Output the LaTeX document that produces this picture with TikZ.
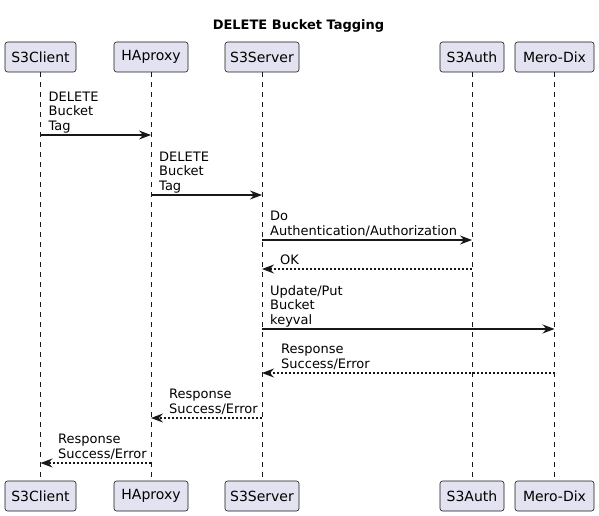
\documentclass[tikz,border=0pt]{standalone}
\usepackage{fontspec}
\setmainfont{DejaVu Sans}
\usetikzlibrary{arrows.meta}
\definecolor{ln}{HTML}{181818}
\definecolor{pf}{HTML}{E2E2F0}
\begin{document}
\begin{tikzpicture}[x=1pt,y=-1pt,
 part/.style={draw=ln, fill=pf, rounded corners=2.5pt, minimum height=30pt, inner sep=0pt, font=\fontsize{14}{16}\selectfont, line width=0.6pt},
 life/.style={draw=ln, dash pattern=on 5pt off 5pt, line width=0.5pt},
 msg/.style={draw=ln, line width=1.2pt, -{Stealth[length=12pt,width=9pt,inset=4pt]}},
 ret/.style={msg, dash pattern=on 2pt off 2pt},
 lbl/.style={anchor=base west, inner sep=0pt, align=left, font=\fontsize{13}{14.7}\selectfont},
 ttl/.style={anchor=base, inner sep=0pt, font=\fontsize{13}{15}\selectfont\bfseries}]
\useasboundingbox[fill=white] (0,0) rectangle (599,516);
\node[ttl] (title) at (298.5,30) {DELETE Bucket Tagging};
% participants
\node[part, minimum width=71pt] (cT) at (40.5,57) {S3Client};
\node[part, minimum width=74pt] (hT) at (151,57) {HAproxy};
\node[part, minimum width=74pt] (sT) at (262,57) {S3Server};
\node[part, minimum width=64pt] (aT) at (472,57) {S3Auth};
\node[part, minimum width=79pt] (mT) at (554.5,57) {Mero-Dix};
\node[part, minimum width=71pt] (cB) at (40.5,496) {S3Client};
\node[part, minimum width=74pt] (hB) at (151,496) {HAproxy};
\node[part, minimum width=74pt] (sB) at (262,496) {S3Server};
\node[part, minimum width=64pt] (aB) at (472,496) {S3Auth};
\node[part, minimum width=79pt] (mB) at (554.5,496) {Mero-Dix};
% lifelines
\draw[life] (cT.south) -- (cB.north);
\draw[life] (hT.south) -- (hB.north);
\draw[life] (sT.south) -- (sB.north);
\draw[life] (aT.south) -- (aB.north);
\draw[life] (mT.south) -- (mB.north);
% message rows
\coordinate (y1) at (0,135);
\coordinate (y2) at (0,195);
\coordinate (y3) at (0,240);
\coordinate (y4) at (0,269);
\coordinate (y5) at (0,329);
\coordinate (y6) at (0,373);
\coordinate (y7) at (0,418);
\coordinate (y8) at (0,463);
% messages
\draw[msg] (cT |- y1) -- (hT |- y1);
\node[lbl] (l1) at (48.5,130.5) {DELETE\\Bucket\\Tag};
\draw[msg] (hT |- y2) -- (sT |- y2);
\node[lbl] (l2) at (159,190.5) {DELETE\\Bucket\\Tag};
\draw[msg] (sT |- y3) -- (aT |- y3);
\node[lbl] (l3) at (270,235.5) {Do\\Authentication/Authorization};
\draw[ret] (aT |- y4) -- (sT |- y4);
\node[lbl] (l4) at (280,264.5) {OK};
\draw[msg] (sT |- y5) -- (mT |- y5);
\node[lbl] (l5) at (270,324.5) {Update/Put\\Bucket\\keyval};
\draw[ret] (mT |- y6) -- (sT |- y6);
\node[lbl] (l6) at (281,368.5) {Response\\Success/Error};
\draw[ret] (sT |- y7) -- (hT |- y7);
\node[lbl] (l7) at (169,413.5) {Response\\Success/Error};
\draw[ret] (hT |- y8) -- (cT |- y8);
\node[lbl] (l8) at (58,458.5) {Response\\Success/Error};
\end{tikzpicture}
\end{document}
